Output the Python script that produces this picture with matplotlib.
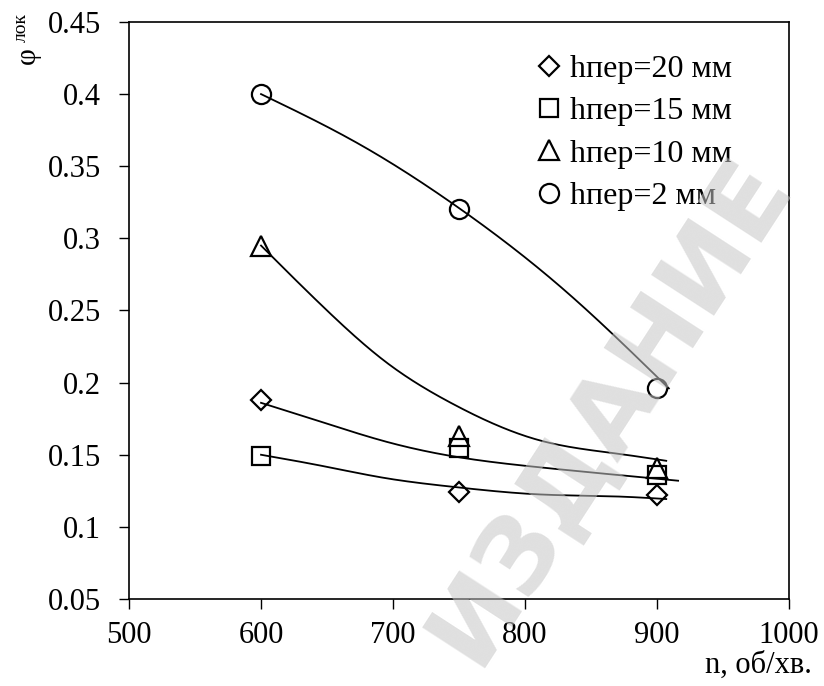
import numpy as np
import matplotlib
matplotlib.use("Agg")
import matplotlib.pyplot as plt

# Measured points: rotational speed n (rpm) vs local coefficient
n_points = [600, 750, 900]
phi_h20 = [0.188, 0.124, 0.122]
phi_h15 = [0.149, 0.155, 0.136]
phi_h10 = [0.295, 0.163, 0.141]
phi_h2 = [0.400, 0.320, 0.196]

series_labels = ["hпер=20 мм", "hпер=15 мм", "hпер=10 мм", "hпер=2 мм"]

# Smoothed approximation curves (knots of each drawn curve)
curve_a_n = [600, 675, 750, 830, 909]
curve_a_v = [0.400, 0.365, 0.321, 0.264, 0.196]

curve_b_n = [600, 650, 695, 745, 811, 872, 907]
curve_b_v = [0.295, 0.250, 0.214, 0.1854, 0.160, 0.1505, 0.1458]

curve_c_n = [600, 645, 695, 745, 811, 870, 916]
curve_c_v = [0.186, 0.173, 0.159, 0.149, 0.1413, 0.136, 0.132]

curve_d_n = [600, 645, 695, 745, 811, 872, 907]
curve_d_v = [0.150, 0.1425, 0.1337, 0.1278, 0.1225, 0.121, 0.1193]

x_ticks = [500, 600, 700, 800, 900, 1000]
y_ticks = [0.05, 0.1, 0.15, 0.2, 0.25, 0.3, 0.35, 0.4, 0.45]
y_tick_labels = ["0.05", "0.1", "0.15", "0.2", "0.25", "0.3", "0.35", "0.4", "0.45"]


def natural_spline(xk, yk, num=300):
    xk = np.asarray(xk, float)
    yk = np.asarray(yk, float)
    m = len(xk)
    h = np.diff(xk)
    A = np.zeros((m, m))
    r = np.zeros(m)
    A[0, 0] = 1.0
    A[-1, -1] = 1.0
    for i in range(1, m - 1):
        A[i, i - 1] = h[i - 1]
        A[i, i] = 2 * (h[i - 1] + h[i])
        A[i, i + 1] = h[i]
        r[i] = 6 * ((yk[i + 1] - yk[i]) / h[i] - (yk[i] - yk[i - 1]) / h[i - 1])
    M = np.linalg.solve(A, r)
    xs = np.linspace(xk[0], xk[-1], num)
    idx = np.clip(np.searchsorted(xk, xs) - 1, 0, m - 2)
    x0, x1 = xk[idx], xk[idx + 1]
    hi = x1 - x0
    t0 = x1 - xs
    t1 = xs - x0
    ys = (M[idx] * t0 ** 3 + M[idx + 1] * t1 ** 3) / (6 * hi) \
        + (yk[idx] / hi - M[idx] * hi / 6) * t0 \
        + (yk[idx + 1] / hi - M[idx + 1] * hi / 6) * t1
    return xs, ys


plt.rcParams["font.family"] = ["Liberation Serif", "DejaVu Serif"]

fig = plt.figure(figsize=(8.24, 6.86), dpi=100)
ax = fig.add_axes([0.1566, 0.1268, 0.8009, 0.8412])

for cn, cv in [(curve_a_n, curve_a_v), (curve_b_n, curve_b_v),
               (curve_c_n, curve_c_v), (curve_d_n, curve_d_v)]:
    xs, ys = natural_spline(cn, cv)
    ax.plot(xs, ys, color="black", lw=1.3, zorder=2)

mk = dict(color="black", linestyle="none", markerfacecolor="none",
          markeredgewidth=1.6, zorder=3)
ax.plot(n_points, phi_h20, marker="D", markersize=9.8, label=series_labels[0], **mk)
ax.plot(n_points, phi_h15, marker="s", markersize=13.5, label=series_labels[1], **mk)
ax.plot(n_points, phi_h10, marker="^", markersize=14, label=series_labels[2], **mk)
ax.plot(n_points, phi_h2, marker="o", markersize=13.8, label=series_labels[3], **mk)

ax.set_xlim(500, 1000)
ax.set_ylim(0.05, 0.45)
ax.set_xticks(x_ticks)
ax.set_yticks(y_ticks)
ax.set_yticklabels(y_tick_labels)
ax.tick_params(axis="both", direction="out", length=7, width=1.0,
               labelsize=22, color="black")
ax.tick_params(axis="y", pad=13)
ax.tick_params(axis="x", pad=9)
for sp in ax.spines.values():
    sp.set_linewidth(1.2)
    sp.set_color("black")

leg = ax.legend(loc="upper left", bbox_to_anchor=(533.0 / 824, 1 - 55.0 / 686),
                bbox_transform=fig.transFigure, frameon=False, fontsize=23,
                handlelength=1.0, handletextpad=0.15, labelspacing=0.40,
                borderpad=0, borderaxespad=0)

fig.text(812 / 824, 1 - 665 / 686, "n, об/хв.", ha="right", va="center", fontsize=22)
fig.text(28 / 824, 1 - 56 / 686, "φ", rotation=90, ha="center", va="center", fontsize=21)
fig.text(21 / 824, 1 - 28 / 686, "лок", rotation=90, ha="center", va="center", fontsize=14)

# Publisher watermark
fig.text(0.740, 0.402, "ИЗДАНИЕ", rotation=57, ha="center", va="center",
         fontsize=75, fontweight="bold", family="DejaVu Sans",
         color="#c6c6c6", alpha=0.55, zorder=10)

fig.savefig("out.png", dpi=100)
